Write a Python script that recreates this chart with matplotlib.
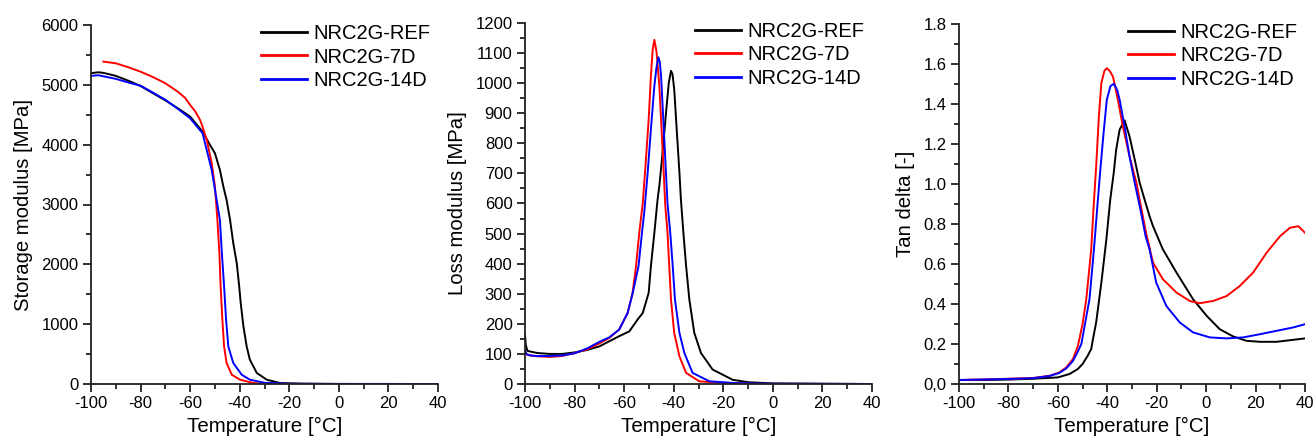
import matplotlib
matplotlib.use("Agg")
import matplotlib.pyplot as plt
from matplotlib.ticker import MultipleLocator, FixedLocator, FixedFormatter

plt.rcParams['font.family'] = ['Liberation Sans', 'DejaVu Sans']
plt.rcParams['axes.unicode_minus'] = False

series_names = ["NRC2G-REF", "NRC2G-7D", "NRC2G-14D"]
colors = ["black", "red", "blue"]

# ---- Storage modulus [MPa] ----
sm_ref_T = [-100, -97, -95, -90, -85, -80, -75, -70, -65, -60, -55, -52, -50, -48, -46.6, -45.3, -43.9, -42.6, -41.2, -40.2, -39.6, -38.5, -37.2, -35.9, -33.1, -29.1, -23.7, -15, 0, 40]
sm_ref_E = [5195, 5210, 5200, 5150, 5070, 4981, 4860, 4740, 4610, 4469, 4219, 3996, 3857, 3579, 3300, 3078, 2744, 2355, 2021, 1630, 1353, 962, 628, 406, 184, 72, 16, 5, 2, 0]
sm_7d_T = [-95, -90, -85, -80, -75, -70, -65, -62, -60, -58, -56, -55, -53.3, -51.3, -50, -49, -48.2, -47.7, -47, -46.3, -45.3, -43.2, -39.9, -34.5, -30, 0, 40]
sm_7d_E = [5388, 5360, 5295, 5220, 5130, 5026, 4886, 4780, 4663, 4560, 4414, 4300, 4080, 3690, 3300, 2744, 2188, 1630, 1074, 628, 351, 155, 72, 16, 5, 0, 0]
sm_14d_T = [-100, -97, -90, -85, -80, -75, -70, -65, -60, -55, -54, -51.3, -50, -48, -47.2, -46.3, -45.5, -44.6, -42.6, -39.2, -35.9, -30, -20, 0, 40]
sm_14d_E = [5150, 5160, 5100, 5040, 4985, 4870, 4750, 4600, 4441, 4191, 4024, 3579, 3250, 2744, 2188, 1630, 1074, 628, 351, 155, 72, 20, 5, 0, 0]

# ---- Loss modulus [MPa] ----
lm_ref_T = [-100, -99.7, -99, -95, -90, -85, -80, -75, -70, -66, -62, -57.9, -54.6, -52.5, -50.1, -49.2, -47.8, -46.5, -45.8, -44.5, -43.1, -42, -41.1, -40.5, -39.8, -38.8, -37.7, -37.1, -36.1, -35, -33.7, -31.7, -29, -24.3, -16.2, -10, 0, 40]
lm_ref_E = [165, 130, 110, 103, 100, 100, 105, 113, 125, 142, 159, 175, 214, 236, 303, 392, 503, 614, 658, 769, 902, 1000, 1041, 1030, 980, 847, 703, 614, 503, 392, 281, 170, 103, 48, 14, 6, 2, 0]
lm_7d_T = [-100, -98, -95, -90, -85, -80, -75, -70, -66, -62, -58.6, -56.6, -55.2, -53.9, -52.5, -51.2, -50.1, -49.2, -48.5, -47.8, -46.9, -45.8, -44.9, -44.1, -43.4, -42.5, -41.8, -41.1, -39.8, -37.7, -35, -29.7, -20, 0, 40]
lm_7d_E = [100, 95, 92, 90, 93, 103, 115, 135, 153, 181, 236, 303, 392, 503, 600, 747, 880, 1024, 1110, 1144, 1102, 991, 847, 714, 592, 503, 392, 281, 170, 92, 37, 9, 3, 0, 0]
lm_14d_T = [-100, -99.5, -98, -95, -90, -85, -80, -75, -70, -66, -62, -58.6, -56.6, -54.2, -52.8, -51.9, -50.5, -49.2, -47.8, -47, -46.2, -45.6, -45.1, -44.2, -43.4, -42.5, -41.4, -40.4, -39.5, -37.7, -35.7, -32.4, -25.6, -15, 0, 40]
lm_14d_E = [115, 100, 95, 93, 93, 95, 102, 118, 140, 155, 181, 236, 300, 392, 503, 570, 703, 847, 991, 1050, 1086, 1070, 1024, 880, 747, 600, 503, 392, 281, 170, 103, 37, 9, 3, 1, 0]

# ---- Tan delta [-] ----
td_ref_T = [-100, -90, -80, -70, -60, -55.3, -51.9, -50, -48, -46.5, -45.8, -44.5, -42.4, -40.4, -38.8, -37.4, -36.4, -35, -33, -31, -28.9, -26.9, -24.9, -22.9, -21.5, -17.5, -12, -5.3, 0.2, 5.5, 10.9, 16.3, 21.8, 28.5, 35.3, 40]
td_ref_v = [0.02, 0.02, 0.022, 0.026, 0.033, 0.05, 0.075, 0.10, 0.14, 0.175, 0.224, 0.308, 0.507, 0.72, 0.922, 1.055, 1.172, 1.272, 1.318, 1.238, 1.122, 1.006, 0.922, 0.839, 0.789, 0.673, 0.557, 0.424, 0.341, 0.274, 0.238, 0.216, 0.211, 0.211, 0.221, 0.228]
td_7d_T = [-100, -83.7, -70.2, -63.4, -59.4, -56.6, -53.9, -51.9, -50, -48.5, -46.5, -45.6, -44.5, -43.4, -42.4, -41.2, -40.2, -39, -37.7, -35.7, -33.7, -31, -28.2, -26.9, -24.2, -21.5, -17.5, -12, -6.6, -2.6, 2.8, 8.3, 13.6, 19, 24.5, 29.9, 33.9, 37.3, 40]
td_7d_v = [0.02, 0.025, 0.030, 0.041, 0.058, 0.083, 0.125, 0.19, 0.30, 0.424, 0.673, 0.873, 1.088, 1.338, 1.504, 1.565, 1.579, 1.565, 1.537, 1.421, 1.288, 1.138, 1.006, 0.92, 0.75, 0.607, 0.524, 0.457, 0.415, 0.404, 0.415, 0.440, 0.490, 0.557, 0.657, 0.739, 0.781, 0.789, 0.756]
td_14d_T = [-100, -83.7, -70.2, -63.4, -59.4, -56.6, -53.9, -52, -50.5, -47.2, -45.4, -43.8, -42.7, -41.5, -40.2, -38.7, -37.3, -36, -35, -33, -31, -28.9, -26.6, -24.5, -22.9, -20.2, -16.1, -10.7, -5.3, 1.5, 8.3, 15, 21.8, 28.5, 35.3, 40]
td_14d_v = [0.02, 0.024, 0.029, 0.04, 0.055, 0.078, 0.115, 0.16, 0.20, 0.424, 0.673, 0.922, 1.088, 1.255, 1.421, 1.49, 1.501, 1.47, 1.421, 1.288, 1.138, 1.006, 0.873, 0.739, 0.673, 0.507, 0.390, 0.308, 0.258, 0.233, 0.228, 0.233, 0.249, 0.266, 0.283, 0.299]

x_ticks = [-100, -80, -60, -40, -20, 0, 20, 40]
td_ticks = [0.0, 0.2, 0.4, 0.6, 0.8, 1.0, 1.2, 1.4, 1.6, 1.8]
td_tick_labels = ["0,0", "0.2", "0.4", "0.6", "0.8", "1.0", "1.2", "1.4", "1.6", "1.8"]

fig = plt.figure(figsize=(13.14, 4.38), dpi=100)
W, H = 1314, 438
axes_px = [(91, 438), (525, 872), (959, 1305)]
tops = [25, 23, 24]
axs = []
for (l, r), t in zip(axes_px, tops):
    ax = fig.add_axes([l / W, 1 - 384 / H, (r - l) / W, (384 - t) / H])
    axs.append(ax)

panels = [
    ([(sm_ref_T, sm_ref_E), (sm_7d_T, sm_7d_E), (sm_14d_T, sm_14d_E)], "Storage modulus [MPa]", (0, 6000), 1000, 500),
    ([(lm_ref_T, lm_ref_E), (lm_7d_T, lm_7d_E), (lm_14d_T, lm_14d_E)], "Loss modulus [MPa]", (0, 1200), 100, 50),
    ([(td_ref_T, td_ref_v), (td_7d_T, td_7d_v), (td_14d_T, td_14d_v)], "Tan delta [-]", (0, 1.8), 0.2, 0.1),
]

for i, (ax, (data, ylabel, ylim, major, minor)) in enumerate(zip(axs, panels)):
    for (T, v), c, n in zip(data, colors, series_names):
        ax.plot(T, v, color=c, lw=1.4, label=n, solid_joinstyle='round')
    ax.set_xlim(-100, 40)
    ax.set_ylim(*ylim)
    ax.xaxis.set_major_locator(FixedLocator(x_ticks))
    ax.xaxis.set_minor_locator(MultipleLocator(10))
    if i == 2:
        ax.yaxis.set_major_locator(FixedLocator(td_ticks))
        ax.yaxis.set_major_formatter(FixedFormatter(td_tick_labels))
    else:
        ax.yaxis.set_major_locator(MultipleLocator(major))
    ax.yaxis.set_minor_locator(MultipleLocator(minor))
    for s in ['top', 'right']:
        ax.spines[s].set_visible(False)
    for s in ['left', 'bottom']:
        ax.spines[s].set_linewidth(1.3)
        ax.spines[s].set_color('#222222')
    ax.tick_params(which='major', direction='out', length=6, width=1.3, labelsize=12, color='#222222', pad=3)
    ax.tick_params(which='minor', direction='out', length=3.5, width=1.3, color='#222222')
    ax.set_xlabel("Temperature [°C]", fontsize=14.8, labelpad=4)
    ax.set_ylabel(ylabel, fontsize=14.6, labelpad=6)
    ax.legend(loc='upper right', frameon=False, fontsize=14.5, handlelength=2.3,
              handletextpad=0.3, labelspacing=0.22, borderaxespad=0.0,
              bbox_to_anchor=(1.0, 1.025))
    for line in ax.get_legend().get_lines():
        line.set_linewidth(2)

fig.savefig("out.png", dpi=100)
